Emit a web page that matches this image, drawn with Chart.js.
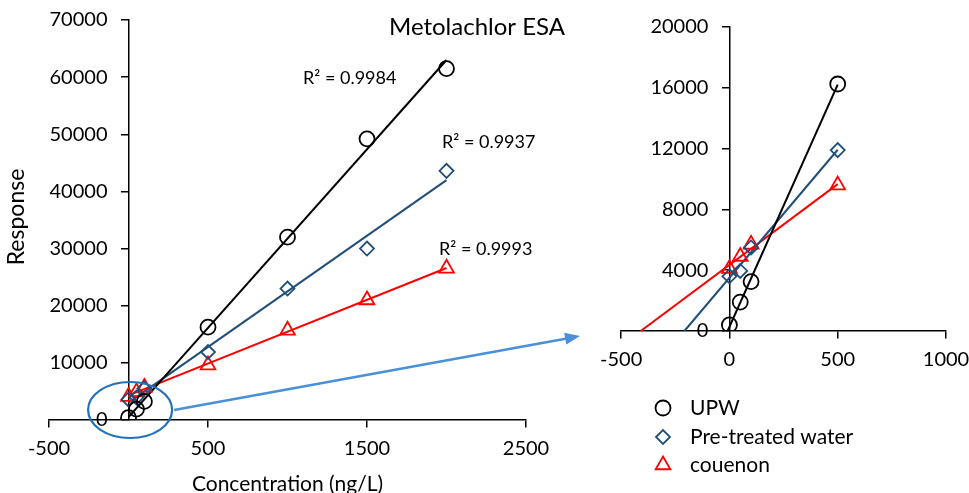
<!DOCTYPE html>
<html>
<head>
<meta charset="utf-8">
<script src="https://cdn.jsdelivr.net/npm/chart.js@4.4.1/dist/chart.umd.min.js"></script>
<style>
    html, body { margin: 0; padding: 0; background: #fff; overflow: hidden; }
    #wrap { position: relative; width: 969px; height: 493px; overflow: hidden; }
    #main { position: absolute; left: 0; top: 0; }
    #inset { position: absolute; left: 590px; top: 0; }
</style>
</head>
<body>
<div id="wrap">
    <canvas id="main" width="969" height="493"></canvas>
    <canvas id="inset" width="420" height="493"></canvas>
</div>
<script>
// calibration data
var concentration = [0, 50, 100, 500, 1000, 1500, 2000];
var responseUPW = [400, 1900, 3250, 16250, 32000, 49200, 61500];
var responsePre = [3600, 3950, 5500, 11900, 23000, 30000, 43600];
var responseCou = [4100, 4900, 5700, 9600, 15700, 21000, 26550];
var seriesNames = ['UPW', 'Pre-treated water', 'couenon'];
var r2Labels = ['R\u00b2 = 0.9984', 'R\u00b2 = 0.9937', 'R\u00b2 = 0.9993'];
var mainXTicks = [-500, 500, 1500, 2500];
var mainYTicks = [0, 10000, 20000, 30000, 40000, 50000, 60000, 70000];
var insetXTicks = [-500, 0, 500, 1000];
var insetYTicks = [0, 4000, 8000, 12000, 16000, 20000];
var insetMaxConc = 500;

var FONT = 'Lato';
var colors = ['#000000', '#1f4e79', '#ff0000'];
var styles = ['circle', 'rectRot', 'triangle'];
var radii = [7.5, 7, 8.5];
var responses = [responseUPW, responsePre, responseCou];

function linFit(xs, ys) {
    var n = xs.length, mx = 0, my = 0, sxx = 0, sxy = 0, i;
    for (i = 0; i < n; i++) { mx += xs[i] / n; my += ys[i] / n; }
    for (i = 0; i < n; i++) {
        sxx += (xs[i] - mx) * (xs[i] - mx);
        sxy += (xs[i] - mx) * (ys[i] - my);
    }
    var b = sxy / sxx;
    return { slope: b, intercept: my - b * mx };
}

function points(xs, ys) {
    return xs.map(function (x, i) { return { x: x, y: ys[i] }; });
}

function fixedTicks(list) {
    return function (scale) {
        scale.ticks = list.map(function (v) { return { value: v }; });
    };
}

function axis(min, max, pos, list, showLabels) {
    return {
        type: 'linear',
        min: min,
        max: max,
        position: pos,
        afterBuildTicks: fixedTicks(list),
        grid: { display: true, drawOnChartArea: false, drawTicks: true, tickLength: 7, color: '#000', lineWidth: 1.5 },
        border: { display: true, color: '#000', width: 1.5 },
        ticks: {
            display: showLabels,
            color: '#000',
            font: { family: FONT, size: 20 },
            padding: 10,
            maxRotation: 0,
            autoSkip: false,
            callback: function (v) { return String(v); }
        }
    };
}

// y labels sit left of the axis that crosses at x = 0
var yLabels = {
    id: 'yLabels',
    afterDraw: function (chart) {
        var ctx = chart.ctx, ys = chart.scales.y, xs = chart.scales.x;
        var ax = xs.getPixelForValue(0);
        ctx.save();
        ctx.font = '20px ' + FONT;
        ctx.fillStyle = '#000';
        ctx.textAlign = 'right';
        ctx.textBaseline = 'middle';
        ys.ticks.forEach(function (t) {
            ctx.fillText(String(t.value), ax - 21, ys.getPixelForValue(t.value));
        });
        ctx.restore();
    }
};

function buildDatasets(xFrom, xTo, maxConc, fitToZero) {
    var sets = [];
    responses.forEach(function (resp, k) {
        var xs = concentration.filter(function (c) { return c <= maxConc; });
        var ys = resp.slice(0, xs.length);
        var f = linFit(xs, ys);
        var x0 = xFrom;
        if (fitToZero) {
            x0 = Math.max(xFrom, -f.intercept / f.slope);
        }
        sets.push({
            label: seriesNames[k] + ' fit',
            data: [{ x: x0, y: f.intercept + f.slope * x0 }, { x: xTo, y: f.intercept + f.slope * xTo }],
            showLine: true,
            borderColor: colors[k],
            borderWidth: 2,
            pointRadius: 0,
            order: 2
        });
    });
    responses.forEach(function (resp, k) {
        var xs = concentration.filter(function (c) { return c <= maxConc; });
        sets.push({
            label: seriesNames[k],
            data: points(xs, resp.slice(0, xs.length)),
            pointStyle: styles[k],
            pointRadius: radii[k],
            pointBorderWidth: 1.8,
            borderColor: colors[k],
            backgroundColor: 'rgba(0,0,0,0)',
            order: 1
        });
    });
    return sets;
}

var mainNotes = {
    id: 'mainNotes',
    afterDraw: function (chart) {
        var ctx = chart.ctx, area = chart.chartArea;
        var xs = chart.scales.x, ys = chart.scales.y;
        ctx.save();
        ctx.fillStyle = '#000';
        ctx.textBaseline = 'middle';

        ctx.font = '24px ' + FONT;
        ctx.textAlign = 'center';
        ctx.fillText('Metolachlor ESA', 477, 27);

        ctx.font = '18px ' + FONT;
        ctx.textAlign = 'left';
        ctx.fillText(r2Labels[0], 303, 78);
        ctx.fillText(r2Labels[1], 442, 142);
        ctx.fillText(r2Labels[2], 439, 249);

        // axis titles
        ctx.font = '21px ' + FONT;
        ctx.textAlign = 'center';
        ctx.textBaseline = 'alphabetic';
        ctx.fillText('Concentration (ng/L)', (area.left + area.right) / 2, 491);
        ctx.save();
        ctx.font = '23px ' + FONT;
        ctx.translate(24, 217);
        ctx.rotate(-Math.PI / 2);
        ctx.fillText('Response', 0, 0);
        ctx.restore();

        // zoom ring round the low standards and arrow to the inset
        var cx = xs.getPixelForValue(10), cy = ys.getPixelForValue(1750);
        ctx.strokeStyle = '#2372b9';
        ctx.lineWidth = 2.2;
        ctx.beginPath();
        ctx.ellipse(cx, cy, 42, 28, 0, 0, Math.PI * 2);
        ctx.stroke();

        var ax = cx + 44, ay = cy, bx = 580, by = 336;
        var ang = Math.atan2(by - ay, bx - ax);
        ctx.strokeStyle = '#4a90d9';
        ctx.fillStyle = '#4a90d9';
        ctx.lineWidth = 2.5;
        ctx.beginPath();
        ctx.moveTo(ax, ay);
        ctx.lineTo(bx - 12 * Math.cos(ang), by - 12 * Math.sin(ang));
        ctx.stroke();
        ctx.beginPath();
        ctx.moveTo(bx, by);
        ctx.lineTo(bx - 15 * Math.cos(ang) + 6 * Math.sin(ang), by - 15 * Math.sin(ang) - 6 * Math.cos(ang));
        ctx.lineTo(bx - 15 * Math.cos(ang) - 6 * Math.sin(ang), by - 15 * Math.sin(ang) + 6 * Math.cos(ang));
        ctx.closePath();
        ctx.fill();
        ctx.restore();
    }
};

var insetLegend = {
    id: 'insetLegend',
    afterDraw: function (chart) {
        var ctx = chart.ctx;
        var rows = [408, 437, 465];
        ctx.save();
        ctx.font = '21px ' + FONT;
        ctx.textAlign = 'left';
        ctx.textBaseline = 'middle';
        seriesNames.forEach(function (name, k) {
            ctx.strokeStyle = colors[k];
            ctx.fillStyle = 'rgba(0,0,0,0)';
            ctx.lineWidth = 1.8;
            Chart.helpers.drawPoint(ctx, { pointStyle: styles[k], radius: radii[k], rotation: 0, borderWidth: 1.8 }, 73, rows[k]);
            ctx.fillStyle = '#000';
            ctx.fillText(name, 100, rows[k]);
        });
        ctx.restore();
    }
};

var common = {
    responsive: false,
    animation: false,
    plugins: { legend: { display: false }, tooltip: { enabled: false } }
};

new Chart(document.getElementById('main'), {
    type: 'scatter',
    data: { datasets: buildDatasets(0, 2000, 2000, false) },
    options: Object.assign({}, common, {
        layout: { padding: { left: 49, right: 443, top: 20, bottom: 73 } },
        scales: {
            x: axis(-500, 2500, { y: 0 }, mainXTicks, true),
            y: axis(0, 70000, { x: 0 }, mainYTicks, false)
        }
    }),
    plugins: [yLabels, mainNotes]
});

new Chart(document.getElementById('inset'), {
    type: 'scatter',
    data: { datasets: buildDatasets(-500, insetMaxConc, insetMaxConc, true) },
    options: Object.assign({}, common, {
        layout: { padding: { left: 29, right: 64, top: 27, bottom: 162 } },
        scales: {
            x: axis(-500, 1000, { y: 0 }, insetXTicks, true),
            y: axis(0, 20000, { x: 0 }, insetYTicks, false)
        }
    }),
    plugins: [yLabels, insetLegend]
});
</script>
</body>
</html>
